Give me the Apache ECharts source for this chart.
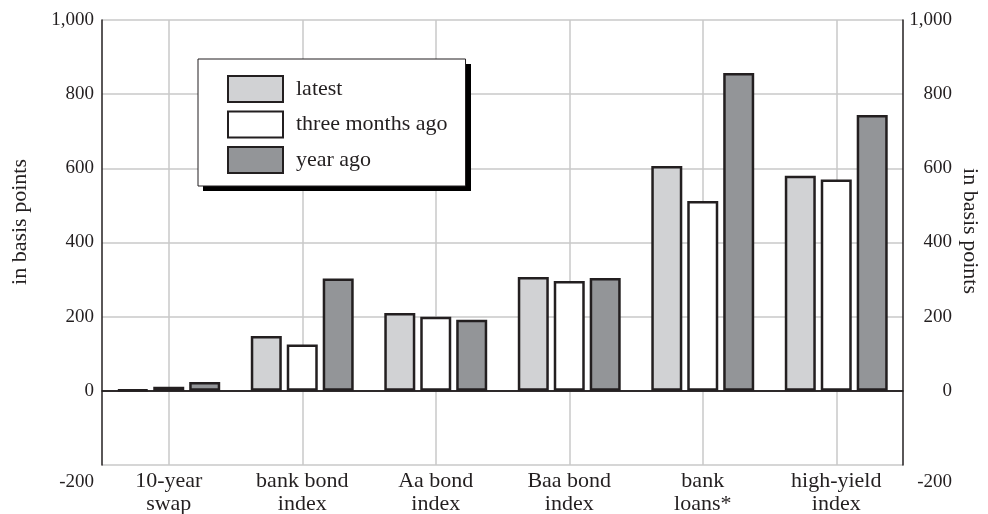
<!DOCTYPE html>
<html>
<head>
<meta charset="utf-8">
<script src="https://cdn.jsdelivr.net/npm/echarts@6/dist/echarts.min.js"></script>
<style>
html,body{margin:0;padding:0;background:#fff;}
#chart{width:988px;height:514px;}
</style>
</head>
<body>
<div id="chart"></div>
<script>
const categories = ['10-year\nswap', 'bank bond\nindex', 'Aa bond\nindex', 'Baa bond\nindex', 'bank\nloans*', 'high-yield\nindex'];
const latest = [3, 148, 210, 307, 606, 580];
const threeMonthsAgo = [11, 125, 200, 296, 512, 570];
const yearAgo = [24, 303, 192, 304, 857, 744];
const seriesNames = ['latest', 'three months ago', 'year ago'];
const yMin = -200, yMax = 1000, yStep = 200;
const axisTitle = 'in basis points';

const FONT = '"Liberation Serif", "Times New Roman", serif';
const INK = '#231f20';
const GRIDC = '#c8c8c8';

const chart = echarts.init(document.getElementById('chart'));

function tickFmt(v) {
  const s = v.toLocaleString('en-US');
  return v === yMin ? '{low|' + s + '}' : s;
}
const tickRich = { low: { padding: [34, 0, 0, 0], fontFamily: FONT, fontSize: 19, color: INK } };

function barSeries(name, data, color, extra) {
  return Object.assign({
    name: name,
    type: 'bar',
    data: data,
    barWidth: 31,
    barGap: '16%',
    itemStyle: { color: color, borderColor: INK, borderWidth: 2.5 },
    emphasis: { disabled: true },
    z: 3
  }, extra || {});
}

chart.setOption({
  animation: false,
  backgroundColor: '#fff',
  textStyle: { fontFamily: FONT, color: INK },
  grid: { left: 102, right: 85, top: 20, bottom: 49, containLabel: false, outerBoundsMode: 'none' },
  legend: {
    orient: 'vertical',
    left: 198,
    top: 59,
    z: 20,
    itemWidth: 55,
    itemHeight: 26,
    itemGap: 7.5,
    padding: [16, 18, 12, 29],
    backgroundColor: '#fff',
    borderColor: INK,
    borderWidth: 1,
    icon: 'rect',
    textStyle: { fontFamily: FONT, fontSize: 22, color: INK, padding: [0, 0, 0, 8] },
    data: seriesNames
  },
  xAxis: {
    type: 'category',
    data: categories,
    axisLine: { show: true, lineStyle: { color: INK, width: 1.5 } },
    axisTick: { show: false },
    splitLine: { show: true, alignWithLabel: true, lineStyle: { color: GRIDC, width: 1.5 } },
    axisLabel: { fontFamily: FONT, fontSize: 22, color: INK, lineHeight: 23, margin: 5, interval: 0 }
  },
  yAxis: [
    {
      type: 'value', min: yMin, max: yMax, interval: yStep, position: 'left',
      axisLine: { show: true, lineStyle: { color: INK, width: 1.5 } },
      axisTick: { show: false },
      splitLine: { show: true, lineStyle: { color: GRIDC, width: 1.5 } },
      axisLabel: { fontFamily: FONT, fontSize: 19, color: INK, margin: 8, formatter: tickFmt, rich: tickRich }
    },
    {
      type: 'value', min: yMin, max: yMax, interval: yStep, position: 'right',
      axisLine: { show: true, lineStyle: { color: INK, width: 1.5 } },
      axisTick: { show: false },
      splitLine: { show: false },
      axisLabel: { fontFamily: FONT, fontSize: 19, color: INK, margin: 49, align: 'right', formatter: tickFmt, rich: tickRich }
    }
  ],
  series: [
    barSeries(seriesNames[0], latest, '#d1d2d4', {
      markLine: {
        silent: true, symbol: 'none', label: { show: false },
        lineStyle: { color: INK, width: 1.5, type: 'solid' },
        emphasis: { disabled: true },
        data: [{ yAxis: 0 }], z: 2
      }
    }),
    barSeries(seriesNames[1], threeMonthsAgo, '#ffffff'),
    barSeries(seriesNames[2], yearAgo, '#939598')
  ],
  graphic: [
    { type: 'rect', z: 10, silent: true,
      shape: { x: 203, y: 64, width: 268, height: 127 },
      style: { fill: '#000' } },
    { type: 'text', x: 20, y: 222, rotation: Math.PI / 2,
      style: { text: axisTitle, font: '22px ' + FONT, fill: INK, align: 'center', verticalAlign: 'middle' } },
    { type: 'text', x: 970, y: 231, rotation: -Math.PI / 2,
      style: { text: axisTitle, font: '22px ' + FONT, fill: INK, align: 'center', verticalAlign: 'middle' } }
  ]
});
</script>
</body>
</html>
